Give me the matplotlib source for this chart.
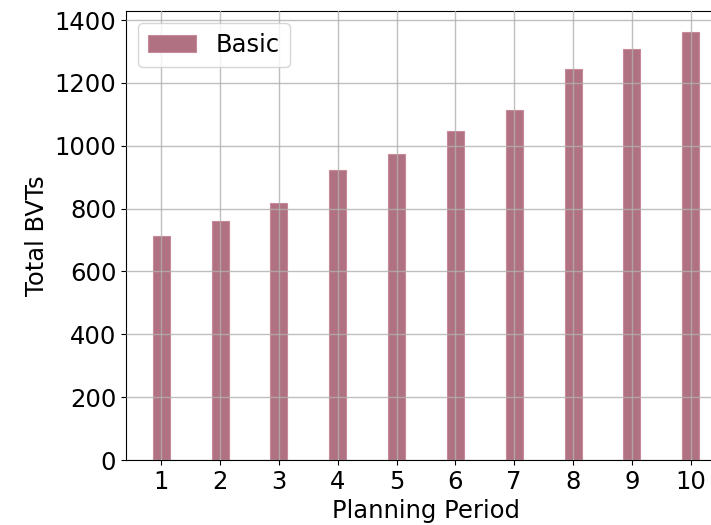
import matplotlib
matplotlib.use("Agg")
import matplotlib.pyplot as plt

periods = [1, 2, 3, 4, 5, 6, 7, 8, 9, 10]
basic = [714, 760, 819, 923, 973, 1047, 1114, 1245, 1308, 1362]
series_label = "Basic"

fig = plt.figure(figsize=(7.11, 5.25), dpi=100)
W, H = 711, 525
left, right, top, bottom = 126, 726, 11, 460
ax = fig.add_axes([left / W, (H - bottom) / H, (right - left) / W, (bottom - top) / H])

ax.bar(periods, basic, width=0.29, color="#b07282", edgecolor="#c88a98", linewidth=0.8, label=series_label)
ax.set_xlim(0.4, 10.6)
ax.set_ylim(0, 1429)
ax.set_xticks(periods)
ax.set_yticks(range(0, 1401, 200))
ax.tick_params(labelsize=17.5)
ax.set_xlabel("Planning Period", fontsize=17.5)
ax.set_ylabel("Total BVTs", fontsize=17.5)
ax.set_axisbelow(False)
ax.grid(True, color="#b0b0b0", linewidth=1.0, alpha=0.8)
ax.legend(loc="upper left", fontsize=17.5)

fig.savefig("out.png", dpi=100)
